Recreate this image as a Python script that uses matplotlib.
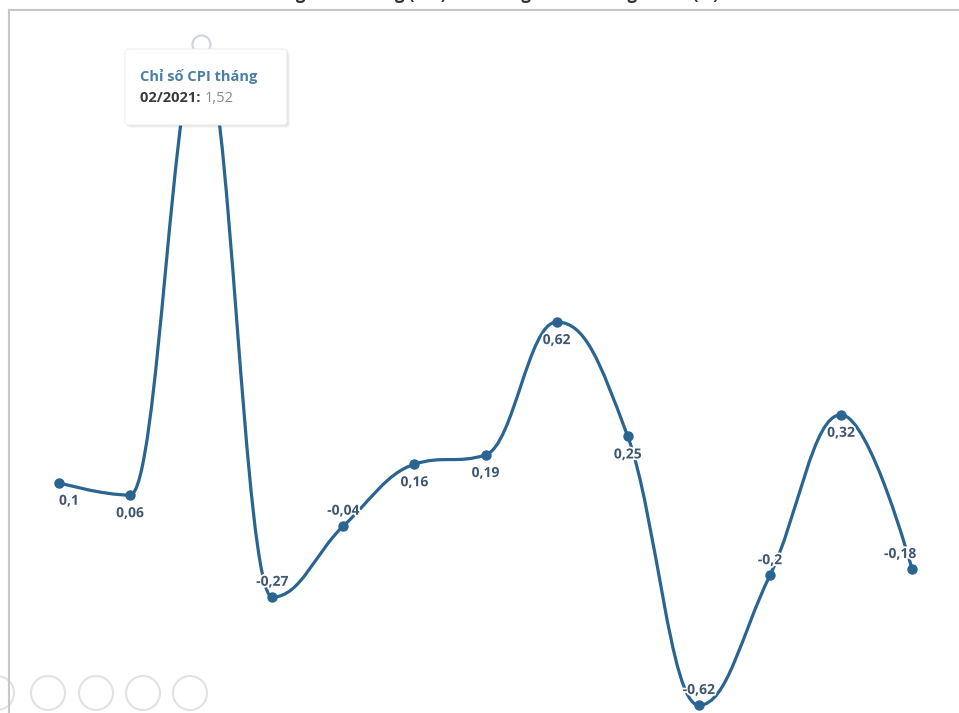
import numpy as np
import matplotlib
matplotlib.use("Agg")
import matplotlib.pyplot as plt
from matplotlib.path import Path
from matplotlib.patches import PathPatch, FancyBboxPatch, Ellipse
import matplotlib.patheffects as pe

plt.rcParams['font.family'] = ['Open Sans', 'DejaVu Sans']

# data
months = ["01/2021", "02/2021", "03/2021", "04/2021", "05/2021", "06/2021", "07/2021",
          "08/2021", "09/2021", "10/2021", "11/2021", "12/2021", "01/2022"]
cpi = [0.1, 0.06, 1.52, -0.27, -0.04, 0.16, 0.19, 0.62, 0.25, -0.62, -0.2, 0.32, -0.18]
hover_idx = 1

line_color = "#2a6592"
label_color = "#3f5670"

W, H = 959, 713
fig = plt.figure(figsize=(W / 100, H / 100), dpi=100)
ax = fig.add_axes([0, 0, 1, 1])
ax.set_xlim(-0.83, 12.66)
ax.set_ylim(-0.645, 1.662)
ax.axis("off")

x = np.arange(len(cpi), dtype=float)
y = np.array(cpi, dtype=float)


# spline like highcharts (smoothing 1.5, no overshoot at extremes)
def spline_path(xs, ys):
    n = len(xs)
    sm = 1.5
    den = sm + 1
    right = [None] * n
    left = [None] * n
    for i in range(1, n - 1):
        px, py = xs[i], ys[i]
        lx, ly = xs[i - 1], ys[i - 1]
        nx, ny = xs[i + 1], ys[i + 1]
        lcx = (sm * px + lx) / den
        lcy = (sm * py + ly) / den
        rcx = (sm * px + nx) / den
        rcy = (sm * py + ny) / den
        corr = (rcy - lcy) * (rcx - px) / (rcx - lcx) + py - rcy
        lcy += corr
        rcy += corr
        if lcy > ly and lcy > py:
            lcy = max(ly, py)
            rcy = 2 * py - lcy
        elif lcy < ly and lcy < py:
            lcy = min(ly, py)
            rcy = 2 * py - lcy
        if rcy > ny and rcy > py:
            rcy = max(ny, py)
            lcy = 2 * py - rcy
        elif rcy < ny and rcy < py:
            rcy = min(ny, py)
            lcy = 2 * py - rcy
        left[i] = (lcx, lcy)
        right[i] = (rcx, rcy)
    verts = [(xs[0], ys[0])]
    codes = [Path.MOVETO]
    for i in range(1, n):
        c1 = right[i - 1] if right[i - 1] is not None else (xs[i - 1], ys[i - 1])
        c2 = left[i] if left[i] is not None else (xs[i], ys[i])
        verts += [c1, c2, (xs[i], ys[i])]
        codes += [Path.CURVE4] * 3
    return Path(verts, codes)


ax.add_patch(PathPatch(spline_path(x, y), facecolor="none", edgecolor=line_color,
                       lw=2.3, capstyle="round", joinstyle="round", zorder=3))
ax.plot(x, y, "o", color=line_color, ms=6.5, zorder=4)
# hover halo
ax.plot(x[hover_idx + 1], y[hover_idx + 1], "o", ms=13, markerfacecolor="white",
        markeredgecolor="#c9d6e0", mew=1.5, zorder=5)

# data labels
for i, v in enumerate(cpi):
    if i == hover_idx + 1:
        continue
    txt = ("%g" % v).replace(".", ",")
    dy = -13 if v >= 0 else 11
    dx = 0
    ha = "center"
    if i == 0:
        ha, dx = "left", 0
    elif i == len(cpi) - 1:
        ha, dx = "right", 3
    ax.annotate(txt, (x[i], y[i]), xytext=(dx, dy), textcoords="offset points",
                ha=ha, va="center", fontsize=10, fontweight="bold", color=label_color,
                path_effects=[pe.withStroke(linewidth=2.5, foreground="white")], zorder=6)

# frame lines of the screenshot
fig.add_artist(plt.Line2D([9 / W, 1], [1 - 10 / H, 1 - 10 / H], color="#c8c8c8", lw=1.5))
fig.add_artist(plt.Line2D([9 / W, 9 / W], [0, 1 - 10 / H], color="#c8c8c8", lw=1.5))

# cut off title at the very top
fig.text(480 / W, 1 - 3 / H, "Chỉ số giá tiêu dùng (CPI) các tháng so với tháng trước (%)",
         ha="center", va="bottom", fontsize=12, fontweight="bold", color="#333333")

# tooltip
bx, by, bw, bh = 125, 49, 162, 76
for k, a in enumerate([0.05, 0.04, 0.03]):
    sh = FancyBboxPatch(((bx + 1 + k) / W, 1 - (by + bh + 1 + k) / H), bw / W, bh / H,
                        boxstyle="round,pad=0,rounding_size=0.004", transform=fig.transFigure,
                        facecolor="black", edgecolor="none", alpha=a, zorder=8)
    fig.add_artist(sh)
box = FancyBboxPatch((bx / W, 1 - (by + bh) / H), bw / W, bh / H,
                     boxstyle="round,pad=0,rounding_size=0.004", transform=fig.transFigure,
                     facecolor="white", edgecolor="#eeeeee", lw=0.8, zorder=9)
fig.add_artist(box)
fig.text(140 / W, 1 - 76 / H, "Chỉ số CPI tháng", ha="left", va="center", fontsize=10.5,
         fontweight="bold", color="#4a7fa8", zorder=10)
t1 = fig.text(140 / W, 1 - 98 / H, months[hover_idx] + ": ", ha="left", va="center",
              fontsize=10.5, fontweight="bold", color="#3a3a3a", zorder=10)
fig.canvas.draw()
bb = t1.get_window_extent()
fig.text(bb.x1 / W, 1 - 98 / H, ("%g" % cpi[hover_idx + 1]).replace(".", ","), ha="left",
         va="center", fontsize=10.5, color="#8a8a8a", zorder=10)

# toolbar buttons at bottom left (faint)
for cx in [-3, 48, 96, 143, 190]:
    fig.add_artist(Ellipse((cx / W, 1 - 693 / H), 34 / W, 34 / H, transform=fig.transFigure,
                           facecolor="none", edgecolor="#e2e2e2", lw=1.5))

fig.savefig("out.png", dpi=100)
